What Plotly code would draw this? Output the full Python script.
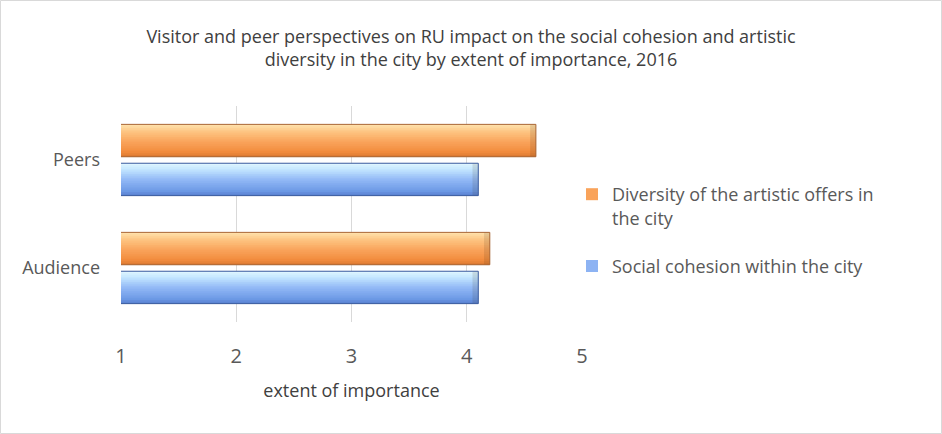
import plotly.graph_objects as go

# Survey results: mean rating on a 1-5 scale
categories = ["Audience", "Peers"]
diversity = [4.2, 4.6]     # Diversity of the artistic offers in the city
cohesion = [4.1, 4.1]      # Social cohesion within the city
x_ticks = [1, 2, 3, 4, 5]

FONT = "Open Sans"
N_STRIPS = 18
BEVEL = 0.05   # width of the shaded bar end, in axis units


def hex_to_rgb(h):
    h = h.lstrip("#")
    return tuple(int(h[i:i + 2], 16) for i in (0, 2, 4))


def gradient(stops, t):
    """Colour at position t (0 = top edge, 1 = bottom edge) along the stops."""
    for (t0, c0), (t1, c1) in zip(stops, stops[1:]):
        if t0 <= t <= t1:
            f = 0 if t1 == t0 else (t - t0) / (t1 - t0)
            a, b = hex_to_rgb(c0), hex_to_rgb(c1)
            r = [round(a[k] + (b[k] - a[k]) * f) for k in range(3)]
            return "rgb({},{},{})".format(*r)
    return stops[-1][1]


series = [
    dict(name="Diversity of the artistic offers in<br>the city", values=diversity,
         offset=0.03, width=0.30, mid="#F9A35A", edge="#A9683A", group="div",
         stops=[(0, "#FFE3AE"), (0.25, "#FDC27F"), (0.55, "#F9A35A"),
                (0.85, "#F28C3E"), (1, "#D97730")]),
    dict(name="Social cohesion within the city", values=cohesion,
         offset=-0.33, width=0.30, mid="#8DB3F3", edge="#3F5E9E", group="soc",
         stops=[(0, "#E2F8FF"), (0.22, "#BFE3FF"), (0.5, "#93B9F6"),
                (0.85, "#6D9AE6"), (1, "#5880CF")]),
]

fig = go.Figure()

for s in series:
    # legend entry / base fill
    fig.add_trace(go.Bar(
        y=categories, x=s["values"], orientation="h", name=s["name"],
        legendgroup=s["group"],
        offset=s["offset"], width=s["width"],
        marker=dict(color=s["mid"], line=dict(width=0)),
        hoverinfo="skip",
    ))
    # vertical shading as thin horizontal strips
    h = s["width"] / N_STRIPS
    top = s["offset"] + s["width"]
    for i in range(N_STRIPS):
        t = (i + 0.5) / N_STRIPS
        extra = 0.4 * h if i < N_STRIPS - 1 else 0
        fig.add_trace(go.Bar(
            y=categories, x=s["values"], orientation="h", showlegend=False,
            legendgroup=s["group"],
            offset=top - (i + 1) * h - extra, width=h + extra,
            marker=dict(color=gradient(s["stops"], t), line=dict(width=0)),
            hoverinfo="skip",
        ))
    # darker bevelled end of each bar
    fig.add_trace(go.Bar(
        y=categories, x=[BEVEL] * len(s["values"]),
        base=[v - BEVEL for v in s["values"]], orientation="h",
        showlegend=False, legendgroup=s["group"],
        offset=s["offset"], width=s["width"],
        marker=dict(color="rgba(60,40,20,0.12)", line=dict(width=0)),
        hoverinfo="skip",
    ))
    # outline on top
    fig.add_trace(go.Bar(
        y=categories, x=s["values"], orientation="h", showlegend=False,
        legendgroup=s["group"],
        offset=s["offset"], width=s["width"],
        marker=dict(color="rgba(0,0,0,0)", line=dict(width=1, color=s["edge"])),
        hoverinfo="skip",
    ))

W, H = 942, 434
L, R, T, B = 121, 360, 106, 112
pw, ph = W - L - R, H - T - B

# light grey frame around the whole chart
fig.add_shape(
    type="rect", xref="paper", yref="paper", layer="below",
    x0=(0.5 - L) / pw, x1=(W - 0.5 - L) / pw,
    y0=(0.5 - B) / ph, y1=(H - 0.5 - B) / ph,
    line=dict(color="#D9D9D9", width=1), fillcolor="rgba(0,0,0,0)",
)

fig.update_layout(
    width=W, height=H,
    margin=dict(l=L, r=R, t=T, b=B),
    paper_bgcolor="white", plot_bgcolor="white",
    barmode="overlay",
    font=dict(family=FONT, color="#595959"),
    title=dict(
        text="Visitor and peer perspectives on RU impact on the social cohesion and artistic<br>"
             "diversity in the city by extent of importance, 2016",
        x=0.5, xref="container", xanchor="center",
        y=1 - 43 / H, yref="container", yanchor="top",
        font=dict(family=FONT, size=18, color="#404040"),
    ),
    xaxis=dict(
        range=[1, 5], tickvals=x_ticks, showgrid=True, gridcolor="#D9D9D9",
        gridwidth=1, zeroline=False, showline=False, ticks="",
        tickfont=dict(size=20, color="#595959"), ticklabelstandoff=20,
        title=dict(text="extent of importance", standoff=16,
                   font=dict(size=18, color="#404040")),
        fixedrange=True,
    ),
    yaxis=dict(
        type="category", categoryorder="array", categoryarray=categories,
        range=[-0.5, 1.5], showgrid=False, zeroline=False, showline=False,
        ticks="", tickfont=dict(size=18, color="#595959"), ticklabelstandoff=20,
        fixedrange=True,
    ),
    legend=dict(
        x=(572 - L) / pw, xanchor="left", y=(322 - 176) / ph, yanchor="top",
        font=dict(size=18, color="#595959"), valign="top",
        traceorder="grouped", itemclick=False, itemdoubleclick=False,
        bgcolor="rgba(0,0,0,0)", tracegroupgap=22,
    ),
    showlegend=True,
)

fig.write_html("out.html")
